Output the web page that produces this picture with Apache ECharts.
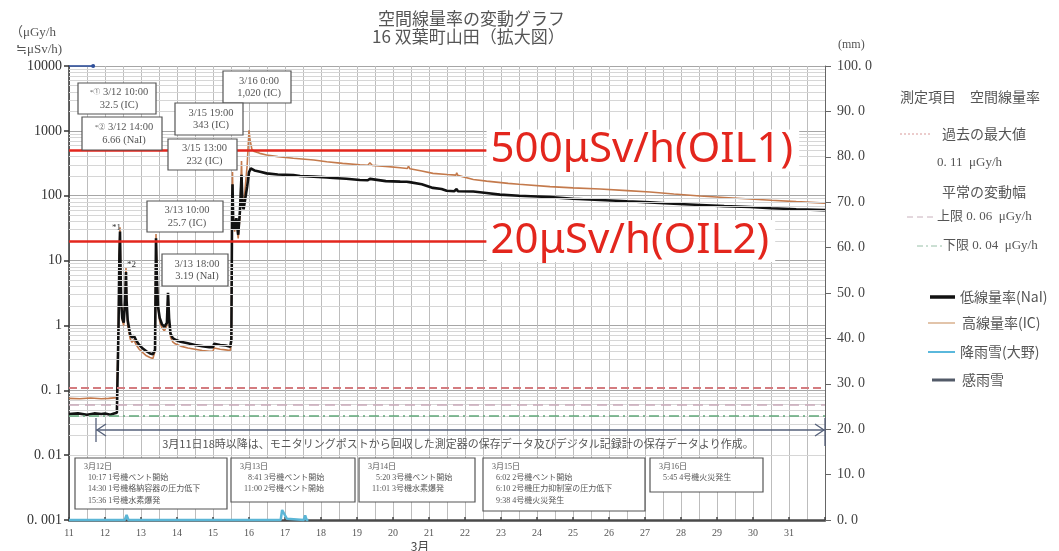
<!DOCTYPE html>
<html>
<head>
<meta charset="utf-8">
<script src="https://cdn.jsdelivr.net/npm/echarts@6/dist/echarts.min.js"></script>
<style>
  html, body { margin: 0; padding: 0; background: #fff; }
  #chart { width: 1059px; height: 551px; }
</style>
</head>
<body>
<div id="chart"></div>
<script>
// Time axis is the day of March (decimal days, 0:00 = whole number).

// 低線量率 (NaI) [day, μGy/h]
const naiSeries = [
  [11.000,0.043],[11.250,0.044],[11.500,0.042],[11.700,0.044],[11.900,0.043],[12.000,0.044],[12.150,0.042],
  [12.250,0.044],[12.330,0.045],[12.375,0.9],[12.400,12],[12.417,28],[12.430,8],[12.450,2.2],[12.480,1.3],
  [12.520,1.1],[12.560,2.5],[12.583,6.66],[12.600,2.4],[12.630,1.2],[12.670,0.9],[12.700,0.72],[12.750,0.65],
  [12.800,0.70],[12.830,0.66],[12.870,0.58],[12.950,0.50],[13.050,0.44],[13.150,0.40],[13.250,0.37],[13.330,0.36],
  [13.390,0.42],[13.417,22],[13.440,6],[13.470,2.0],[13.520,1.3],[13.580,1.05],[13.650,0.95],[13.720,1.1],
  [13.750,3.19],[13.780,1.3],[13.820,0.75],[13.880,0.64],[13.950,0.60],[14.100,0.56],[14.300,0.53],[14.500,0.50],
  [14.700,0.48],[14.900,0.46],[15.000,0.46],[15.030,0.52],[15.200,0.50],[15.350,0.49],[15.480,0.47],[15.510,0.6],
  [15.530,60],[15.542,150],[15.560,45],[15.600,30],[15.650,45],[15.700,25],[15.750,60],[15.792,210],[15.820,70],
  [15.850,62],[15.900,64],[15.950,140],[16.000,230],[16.050,264],[16.150,245],[16.310,234],[16.490,221],
  [16.800,212],[17.230,208],[17.420,201],[17.800,197],[18.160,192],[18.340,188],[18.700,183],[19.080,175],
  [19.300,173],[19.360,182],[19.400,172],[19.800,168],[20.200,165],[20.380,164],[20.420,174],[20.460,162],
  [20.800,150],[21.110,132],[21.350,127],[21.490,119],[21.700,117],[21.770,127],[21.800,117],[22.230,116],
  [22.600,110],[22.970,104],[23.500,100],[24.000,97],[24.360,95],[25.000,90],[25.750,86],[26.500,82],
  [27.140,79],[27.800,75],[28.530,72],[29.200,69],[29.920,67],[30.500,64],[31.200,62],[32.000,60]
];

// 高線量率 (IC) [day, μGy/h]
const icSeries = [
  [11.000,0.075],[11.300,0.074],[11.600,0.076],[11.900,0.074],[12.100,0.075],[12.330,0.077],[12.375,1.2],
  [12.400,15],[12.417,32.5],[12.430,9],[12.450,2.3],[12.480,1.2],[12.520,1.0],[12.560,2.8],[12.583,7.8],
  [12.600,2.2],[12.630,1.0],[12.670,0.75],[12.700,0.62],[12.750,0.55],[12.800,0.60],[12.830,0.57],[12.870,0.50],
  [12.950,0.43],[13.050,0.38],[13.150,0.34],[13.250,0.32],[13.330,0.31],[13.390,0.40],[13.417,25.7],[13.440,7],
  [13.470,2.0],[13.520,1.15],[13.580,0.92],[13.650,0.82],[13.720,1.0],[13.750,3.0],[13.780,1.2],[13.820,0.66],
  [13.880,0.56],[13.950,0.52],[14.100,0.48],[14.300,0.45],[14.500,0.43],[14.700,0.41],[14.900,0.40],[15.000,0.40],
  [15.030,0.45],[15.200,0.43],[15.350,0.42],[15.480,0.41],[15.510,0.6],[15.530,80],[15.542,232],[15.560,50],
  [15.600,28],[15.650,40],[15.700,22],[15.750,50],[15.792,343],[15.820,80],[15.850,70],[15.900,75],[15.950,300],
  [16.000,1020],[16.030,720],[16.080,520],[16.150,480],[16.300,450],[16.490,424],[16.800,400],[17.230,378],
  [17.800,355],[18.160,334],[18.600,315],[19.080,300],[19.300,295],[19.360,322],[19.420,294],[19.800,283],
  [20.200,270],[20.400,263],[20.430,285],[20.470,260],[20.800,240],[21.110,221],[21.500,212],[21.750,208],
  [21.770,226],[21.800,206],[22.230,178],[22.600,168],[23.200,155],[23.500,150],[24.360,138],[25.000,132],
  [25.750,127],[26.500,120],[27.140,114],[27.800,106],[28.530,99],[29.200,94],[29.920,89],[30.500,85],
  [31.200,81],[32.000,77]
];

// 降雨雪 (大野) [day, mm]
const rainSeries = [
  [11.00,0],[12.55,0],[12.60,1.1],[12.65,0],[16.88,0],[16.92,2.2],[16.97,2.0],[17.05,0.3],[17.10,0],
  [17.52,0],[17.56,1.0],[17.60,0],[17.65,0]
];

// 感雨雪 [day, mm]
const rainSenseSeries = [[11.00,100],[11.67,100]];

// Reference levels (μGy/h)
const pastMax = 0.11;
const normalUpper = 0.06;
const normalLower = 0.04;

// Operational intervention levels (μSv/h)
const oilValues = [500, 20];
const oilNames = ['OIL1', 'OIL2'];

// Spike markers
const spikeMarks = [
  { name: '*1', series: 'ic', day: 12.417, value: 32.5 },
  { name: '*2', series: 'ic', day: 12.583, value: 7.8 }
];

// Peak notes
const noteTimes = ['3/12 10:00', '3/12 14:00', '3/16 0:00', '3/15 19:00', '3/15 13:00', '3/13 10:00', '3/13 18:00'];
const noteValues = [32.5, 6.66, 1020, 343, 232, 25.7, 3.19];
const noteDetectors = ['IC', 'NaI', 'IC', 'IC', 'IC', 'IC', 'NaI'];
const noteMarks = ['*①', '*②', '', '', '', '', ''];

// Plant events
const eventDates = ['3月12日', '3月13日', '3月14日', '3月15日', '3月16日'];
const eventLines = [
  ['10:17 1号機ベント開始', '14:30 1号機格納容器の圧力低下', '15:36 1号機水素爆発'],
  ['  8:41 3号機ベント開始', '11:00 2号機ベント開始'],
  ['  5:20 3号機ベント開始', '11:01 3号機水素爆発'],
  ['6:02 2号機ベント開始', '6:10 2号機圧力抑制室の圧力低下', '9:38 4号機火災発生'],
  ['5:45 4号機火災発生']
];

// Tick labels
const dayLabels = ['11','12','13','14','15','16','17','18','19','20','21','22','23','24','25','26','27','28','29','30','31'];
const doseTickLabels = ['0. 001','0. 01','0. 1','1','10','100','1000','10000'];
const rainTickLabels = ['0. 0','10. 0','20. 0','30. 0','40. 0','50. 0','60. 0','70. 0','80. 0','90. 0','100. 0'];

// ---------------------------------------------------------------------------
const SERIF = '"Liberation Serif", "Noto Sans CJK JP", serif';
const JP = '"Noto Sans CJK JP", sans-serif';
const TEXT = '#444';

// light gridlines at 2..9 within every decade of the log axis
const minorLevels = [];
for (let k = -3; k <= 3; k++) {
  for (let m = 2; m <= 9; m++) minorLevels.push(Number((m * Math.pow(10, k)).toPrecision(3)));
}

const chart = echarts.init(document.getElementById('chart'), null, { renderer: 'canvas' });

const option = {
  animation: false,
  backgroundColor: '#fff',
  title: [
    { text: '空間線量率の変動グラフ', left: 373, top: 5,
      textStyle: { fontFamily: JP, fontSize: 17, fontWeight: 'normal', color: '#555' } },
    { text: '16 双葉町山田（拡大図）', left: 367, top: 23,
      textStyle: { fontFamily: JP, fontSize: 17, fontWeight: 'normal', color: '#555' } }
  ],
  grid: { left: 69, right: 234, top: 66, bottom: 31 },
  xAxis: {
    type: 'value', min: 11, max: 32, interval: 1,
    axisLine: { lineStyle: { color: '#4a4a4a', width: 2.5 } },
    axisTick: { show: true, inside: true, length: 3, lineStyle: { color: '#444', width: 1.5 } },
    axisLabel: {
      formatter: v => dayLabels[Math.round(v) - 11] || '',
      fontFamily: SERIF, fontSize: 10, color: '#555', margin: 8
    },
    splitLine: { show: true, lineStyle: { color: '#bdbdbd', width: 1 } },
    minorTick: { show: true, splitNumber: 2, length: 0, lineStyle: { color: 'rgba(0,0,0,0)' } },
    minorSplitLine: { show: true, lineStyle: { color: '#bdbdbd', width: 1 } }
  },
  yAxis: [
    {
      type: 'log', logBase: 10, min: 0.001, max: 10000, splitNumber: 7,
      axisLine: { show: true, lineStyle: { color: '#333', width: 1.5 } },
      axisTick: { show: true, length: 5, lineStyle: { color: '#333', width: 1.5 } },
      axisLabel: {
        formatter: v => doseTickLabels[Math.round(Math.log10(v)) + 3] || '',
        fontFamily: SERIF, fontSize: 14, color: '#333', margin: 7
      },
      splitLine: { show: true, lineStyle: { color: '#a6a6a6', width: 1 } }
    },
    {
      type: 'value', min: 0, max: 100, interval: 10, position: 'right',
      axisLine: { show: true, lineStyle: { color: '#666', width: 1 } },
      axisTick: { show: true, length: 6, lineStyle: { color: '#666' } },
      axisLabel: {
        formatter: v => rainTickLabels[Math.round(v / 10)] || '',
        fontFamily: SERIF, fontSize: 14, color: '#444', margin: 12
      },
      splitLine: { show: false }
    }
  ],
  series: [
    {
      // minor log gridlines
      type: 'line', data: [], yAxisIndex: 0, z: 1, silent: true,
      markLine: {
        silent: true, symbol: ['none', 'none'], label: { show: false },
        lineStyle: { color: '#d6d6d6', width: 1, type: 'solid' },
        data: minorLevels.map(v => ({ yAxis: v }))
      }
    },
    {
      // reference levels
      type: 'line', data: [], yAxisIndex: 0, z: 2, silent: true,
      markLine: {
        silent: true, symbol: ['none', 'none'], label: { show: false },
        data: [
          { yAxis: pastMax, lineStyle: { color: '#d47c80', width: 2, type: [8, 4] } },
          { yAxis: normalUpper, lineStyle: { color: '#c9a9b9', width: 1.5, type: [10, 6] } },
          { yAxis: normalLower, lineStyle: { color: '#5fa878', width: 1.5, type: [10, 4, 2, 4] } }
        ]
      }
    },
    {
      name: '高線量率(IC)', type: 'line', yAxisIndex: 0, z: 3,
      data: icSeries, symbol: 'none', smooth: false,
      lineStyle: { color: '#c47a4c', width: 1.6 },
      markPoint: {
        symbol: 'circle', symbolSize: 0, silent: true,
        label: { show: true, fontFamily: SERIF, fontSize: 9, color: '#333' },
        data: [
          { coord: [spikeMarks[0].day, spikeMarks[0].value],
            label: { formatter: spikeMarks[0].name, position: 'left', distance: 0, offset: [1, 0] } },
          { coord: [spikeMarks[1].day, spikeMarks[1].value],
            label: { formatter: spikeMarks[1].name, position: 'right', distance: 0, offset: [1, -3] } }
        ]
      }
    },
    {
      name: '低線量率(NaI)', type: 'line', yAxisIndex: 0, z: 4,
      data: naiSeries, symbol: 'none',
      lineStyle: { color: '#111', width: 2.6 }
    },
    {
      name: '降雨雪(大野)', type: 'line', yAxisIndex: 1, z: 4, clip: false,
      data: rainSeries, symbol: 'none',
      lineStyle: { color: '#5bb6d6', width: 2.5 }
    },
    {
      name: '感雨雪', type: 'line', yAxisIndex: 1, z: 4, clip: false,
      data: rainSenseSeries.map((p, i) => i === rainSenseSeries.length - 1
        ? { value: p, symbol: 'circle', symbolSize: 4 } : { value: p }),
      symbol: 'none', showSymbol: true,
      itemStyle: { color: '#2f4f9a' },
      lineStyle: { color: '#2f4f9a', width: 1.6 }
    },
    {
      // OIL thresholds with their captions
      type: 'line', data: [], yAxisIndex: 0, z: 10, silent: true,
      markLine: {
        silent: true, symbol: ['none', 'none'],
        lineStyle: { color: '#e3261d', width: 2.5, type: 'solid' },
        label: {
          show: true, position: 'end', distance: 0,
          color: '#e3261d', fontFamily: '"Noto Sans", sans-serif', fontSize: 42,
          backgroundColor: '#fff', padding: [0, 6, 0, 4]
        },
        data: oilValues.map((v, i) => [
          { coord: [11, v] },
          { coord: [22.6, v], label: { formatter: v + 'μSv/h(' + oilNames[i] + ')' } }
        ])
      }
    }
  ]
};

chart.setOption(option);

// ---------------------------------------------------------------------------
// Annotations, legend and captions
const px = (d, v) => chart.convertToPixel({ xAxisIndex: 0, yAxisIndex: 0 }, [d, v]);
const g = [];

function text(x, y, str, o) {
  o = o || {};
  g.push({
    type: 'text', x: x, y: y, z: o.z || 20, silent: true,
    style: {
      text: str, fill: o.color || TEXT,
      fontSize: o.size || 12, fontFamily: o.family || JP,
      align: o.align || 'left', verticalAlign: o.valign || 'middle',
      lineHeight: o.lineHeight, rich: o.rich
    }
  });
}
function line(x1, y1, x2, y2, o) {
  g.push({
    type: 'line', z: o.z || 20, silent: true,
    shape: { x1: x1, y1: y1, x2: x2, y2: y2 },
    style: { stroke: o.color, lineWidth: o.width || 1, lineDash: o.dash || null }
  });
}
function box(x, y, w, h, z) {
  g.push({
    type: 'rect', z: z, silent: true,
    shape: { x: x, y: y, width: w, height: h },
    style: { fill: '#fff', stroke: '#555', lineWidth: 1.2 }
  });
}

// axis captions
text(10, 33, '（μGy/h', { family: SERIF, size: 13, color: '#555' });
text(16, 50, '≒μSv/h)', { family: SERIF, size: 13, color: '#555' });
text(838, 45, '(mm)', { family: SERIF, size: 12, color: '#555' });
text(420, 546, '3月', { size: 12, align: 'center', color: '#444' });

// peak note boxes
const noteBoxes = [
  [78, 83, 78, 31], [82, 117, 80, 33], [223, 71, 68, 32], [175, 103, 68, 32],
  [168, 139, 69, 31], [147, 201, 76, 31], [162, 254, 66, 32]
];
noteBoxes.forEach((b, i) => {
  box(b[0], b[1], b[2], b[3], 5);
  const val = noteValues[i] >= 1000 ? noteValues[i].toLocaleString('en-US') : String(noteValues[i]);
  const head = noteMarks[i] ? '{s|' + noteMarks[i] + '} ' + noteTimes[i] : noteTimes[i];
  text(b[0] + b[2] / 2 + 2, b[1] + b[3] / 2, head + '\n' + val + ' (' + noteDetectors[i] + ')', {
    z: 6, family: SERIF, size: 10.5, align: 'center', lineHeight: 12.5, color: '#555',
    rich: { s: { fontSize: 7, fontFamily: SERIF, fill: '#555' } }
  });
});

// plant event boxes
const eventBoxes = [
  [75, 458, 152, 51], [231, 458, 124, 44], [359, 458, 116, 44], [483, 458, 162, 53], [650, 458, 113, 34]
];
eventBoxes.forEach((b, i) => {
  box(b[0], b[1], b[2], b[3], 5);
  text(b[0] + 9, b[1] + 3, eventDates[i] + '\n' + eventLines[i].map(s => '  ' + s).join('\n'), {
    z: 6, family: SERIF, size: 8, valign: 'top', lineHeight: 11.3, color: '#555'
  });
});

// data-source arrow: from 3/11 18:00 to the end of the axis
const ax0 = px(11.75, 1)[0];
const ax1 = px(32, 1)[0];
const ay = 430;
const arrowColor = '#55607a';
line(ax0, ay, ax1, ay, { color: arrowColor, width: 1.3, z: 7 });
line(ax0 + 10, ay - 6, ax0 + 1, ay, { color: arrowColor, width: 1.3, z: 7 });
line(ax0 + 1, ay, ax0 + 10, ay + 6, { color: arrowColor, width: 1.3, z: 7 });
line(ax1 - 10, ay - 6, ax1 - 1, ay, { color: arrowColor, width: 1.3, z: 7 });
line(ax1 - 1, ay, ax1 - 10, ay + 6, { color: arrowColor, width: 1.3, z: 7 });
line(ax0, ay - 12, ax0, ay + 12, { color: arrowColor, width: 1.3, z: 7 });
line(ax1, ay - 12, ax1, ay + 16, { color: arrowColor, width: 1.3, z: 7 });
text(458, 444, '3月11日18時以降は、モニタリングポストから回収した測定器の保存データ及びデジタル記録計の保存データより作成。',
  { size: 11, align: 'center', color: '#555', z: 7 });

// legend
const fmt = v => v.toFixed(2).replace('.', '. ');
text(900, 97, '測定項目　空間線量率', { size: 14, color: '#555' });
line(900, 134, 930, 134, { color: '#d99a9a', width: 1, dash: [2, 2] });
text(942, 134, '過去の最大値', { size: 14, color: '#555' });
text(937, 163, fmt(pastMax) + '  μGy/h', { size: 13, family: SERIF, color: '#555' });
text(942, 192, '平常の変動幅', { size: 14, color: '#555' });
line(907, 217, 933, 217, { color: '#c8b0bc', width: 1, dash: [6, 4] });
text(937, 217, '上限 ' + fmt(normalUpper) + '  μGy/h', { size: 13, family: SERIF, color: '#555' });
line(917, 246, 943, 246, { color: '#98c0a8', width: 1, dash: [6, 3, 2, 3] });
text(943, 246, '下限 ' + fmt(normalLower) + '  μGy/h', { size: 13, family: SERIF, color: '#555' });
line(930, 297, 955, 297, { color: '#111', width: 3.5 });
text(960, 297, '低線量率(NaI)', { size: 14, color: '#555' });
line(928, 323, 955, 323, { color: '#d9b08e', width: 1.5 });
text(962, 323, '高線量率(IC)', { size: 14, color: '#555' });
line(928, 352, 955, 352, { color: '#5ab8dc', width: 2 });
text(960, 352, '降雨雪(大野)', { size: 14, color: '#555' });
line(932, 380, 955, 380, { color: '#525a68', width: 3 });
text(962, 380, '感雨雪', { size: 14, color: '#555' });

chart.setOption({ graphic: { elements: g } });
</script>
</body>
</html>
